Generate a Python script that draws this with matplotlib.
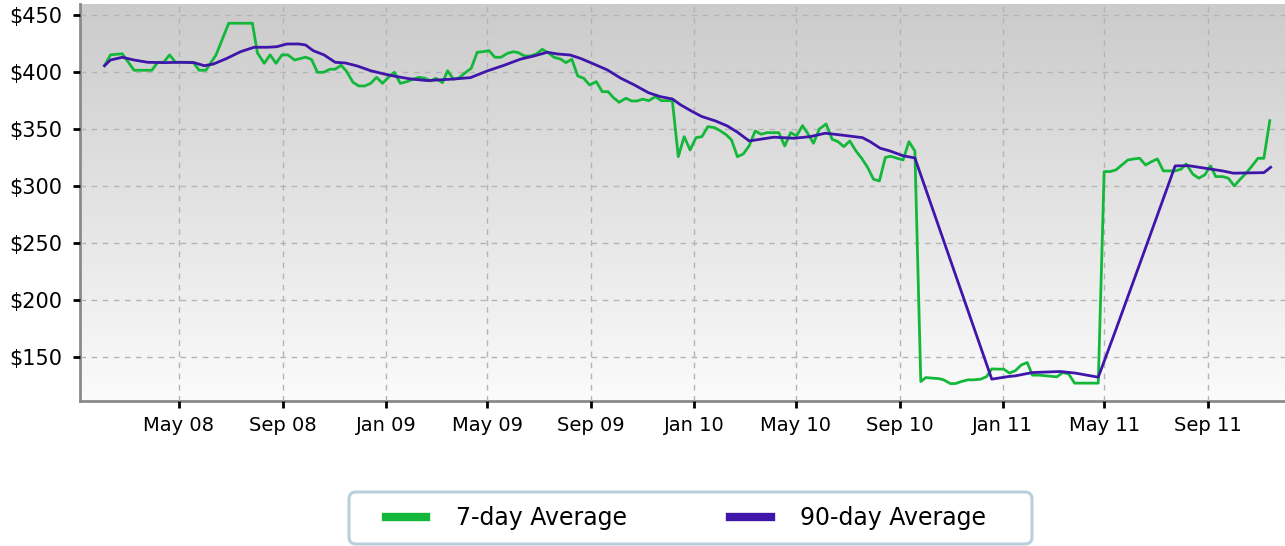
import numpy as np
import pandas as pd
import matplotlib
matplotlib.use('Agg')
import matplotlib.pyplot as plt
import matplotlib.dates as mdates
from matplotlib.patches import FancyBboxPatch
from matplotlib.transforms import IdentityTransform
from matplotlib.ticker import FuncFormatter

# days since 2008-01-01 and price for the 7-day average
day7 = [33, 40, 54, 68, 89, 96, 103, 110, 117, 138, 145, 153, 165, 180, 208, 214,
        222, 229, 236, 243, 250, 258, 271, 278, 285, 292, 300, 306, 313, 319, 327,
        334, 341, 348, 355, 362, 369, 376, 383, 391, 398, 405, 412, 419, 425, 433,
        439, 446, 452, 460, 467, 474, 481, 488, 495, 502, 510, 517, 523, 530, 537,
        544, 551, 559, 565, 573, 579, 586, 593, 600, 607, 615, 622, 629, 635, 642,
        650, 657, 663, 670, 677, 685, 692, 705, 712, 719, 726, 733, 740, 747, 755,
        762, 769, 775, 782, 789, 796, 803, 810, 817, 831, 838, 845, 852, 859, 865,
        872, 879, 887, 894, 901, 908, 915, 922, 929, 936, 943, 950, 957, 963, 971,
        978, 985, 992, 999, 1005, 1012, 1020, 1026, 1034, 1040, 1047, 1055, 1062,
        1070, 1077, 1083, 1090, 1097, 1104, 1111, 1118, 1125, 1131, 1139, 1160,
        1167, 1174, 1181, 1209, 1216, 1223, 1230, 1237, 1244, 1251, 1258, 1265,
        1272, 1279, 1286, 1292, 1300, 1307, 1313, 1321, 1328, 1335, 1342, 1348,
        1356, 1363, 1370, 1377, 1384, 1391, 1398, 1405, 1412]
avg7 = [405.5, 415, 416, 401.5, 401.5, 408.5, 408.5, 415, 408.5, 408.5, 401.5, 401.5,
        415, 442.8, 442.8, 416.7, 407.6, 415, 407.6, 415, 415, 410.5, 413, 411,
        399.7, 399.7, 402.4, 402.4, 405.9, 401, 391, 387.7, 387.7, 390, 395.3, 390,
        395.3, 399.7, 390, 391.5, 393.6, 395.3, 394.5, 392.1, 394.5, 390.6, 401.1,
        393.6, 394.5, 399.4, 403.2, 417.3, 417.8, 418.7, 412.9, 412.9, 416.4, 417.8,
        416.9, 414, 414, 415.8, 419.9, 416.4, 412.9, 411.2, 408.2, 411.2, 396.5,
        394.5, 388.6, 391.5, 382.7, 382.7, 377.6, 373.4, 376.9, 374.5, 374.5, 376.1,
        374.8, 378.3, 374.8, 374.8, 325.6, 343.2, 331.5, 342.3, 343.2, 352, 351.1,
        348.2, 344.7, 340.3, 325.6, 328, 335.3, 348.2, 345.3, 346.7, 346.7, 335,
        346.7, 343.8, 352.9, 346.2, 337.4, 350, 354.3, 340.9, 338.8, 334.4, 339.4,
        330.9, 324.2, 316.3, 305.8, 304.3, 324.9, 326, 324.2, 322.7, 338.8, 330.6,
        128.1, 131.6, 131.1, 130.7, 129.6, 126.3, 126.3, 128.1, 129.6, 129.6, 130.2,
        132.5, 139.2, 139, 139, 135.5, 137.7, 142.7, 144.8, 133.7, 133.7, 132.2,
        136, 134.8, 126.7, 126.7, 312.5, 312.5, 314, 318.3, 322.7, 323.6, 324.2,
        318.3, 321.2, 323.6, 313.1, 313.1, 313.1, 314.6, 319.2, 310.2, 306.7, 309.6,
        317.5, 308.1, 308.1, 306.7, 299.9, 305.8, 311.1, 317.5, 324.2, 324.2, 357.2]

# days since 2008-01-01 and price for the 90-day average
day90 = [33, 40, 54, 68, 84, 103, 123, 139, 151, 162, 178, 194, 210, 226, 237, 249,
         263, 271, 280, 293, 306, 318, 332, 348, 364, 379, 395, 415, 442, 466, 486,
         506, 525, 541, 557, 569, 584, 596, 612, 628, 644, 659, 677, 691, 705, 715,
         729, 740, 756, 770, 782, 796, 809, 825, 849, 868, 886, 904, 930, 939, 951,
         963, 978, 992, 1083, 1103, 1111, 1131, 1164, 1182, 1209, 1229, 1267, 1300,
         1316, 1336, 1356, 1369, 1405, 1413]
avg90 = [405.5, 410.5, 412.9, 410.5, 408.5, 408.2, 408.5, 408.2, 405.5, 407, 412,
         417.8, 421.7, 421.7, 422.2, 424.6, 424.6, 423.7, 418.7, 414.9, 408.5, 407.9,
         405.3, 401.1, 398.2, 395.9, 393.9, 392.4, 393.6, 395, 400.9, 405.9, 411.2,
         414, 417.3, 415.8, 414.9, 412, 407, 401.8, 394.5, 389, 381.7, 378.3, 376.3,
         371, 365.1, 360.8, 357, 352.6, 347.1, 339.4, 340.9, 342.7, 341.8, 343.2,
         346.2, 344.7, 342.3, 338.8, 333, 330.5, 326.4, 324.5, 130.2, 132.5, 133.1,
         136, 136.9, 135.5, 131.9, 171.9, 249.6, 317.5, 317.7, 315.4, 313.1, 311.1,
         311.6, 316.3]

start = pd.Timestamp('2008-01-01')
dates7 = start + pd.to_timedelta(day7, unit='D')
dates90 = start + pd.to_timedelta(day90, unit='D')

fig = plt.figure(figsize=(12.85, 5.46), dpi=100)
ax = fig.add_axes([80 / 1285, 1 - 401 / 546, 1 - 80 / 1285, 397 / 546])

# grey-to-white background
grad = np.linspace(0, 1, 256).reshape(-1, 1)
ax.imshow(grad, extent=[0, 1, 0, 1], transform=ax.transAxes, aspect='auto',
          cmap=matplotlib.colors.LinearSegmentedColormap.from_list('bg', ['#fbfbfb', '#cbcbcb']),
          origin='lower', zorder=0)

ax.plot(dates7, avg7, color='#13b83b', lw=2.0, zorder=3, label='7-day Average')
ax.plot(dates90, avg90, color='#3f16a9', lw=2.0, zorder=4, label='90-day Average')

ax.set_xlim(pd.Timestamp('2008-01-05'), pd.Timestamp('2011-12-01'))
ax.set_ylim(111, 459.7)
ax.set_yticks([150, 200, 250, 300, 350, 400, 450])
ax.yaxis.set_major_formatter(FuncFormatter(lambda v, p: '$%d' % v))
ax.xaxis.set_major_locator(mdates.MonthLocator(bymonth=[1, 5, 9]))
ax.xaxis.set_major_formatter(mdates.DateFormatter('%b %y'))

ax.grid(True, color='#b4b4b4', linestyle=(0, (4, 4)), lw=1)
ax.set_axisbelow(False)
for s in ['top', 'right']:
    ax.spines[s].set_visible(False)
for s in ['left', 'bottom']:
    ax.spines[s].set_color('#8a8a8a')
    ax.spines[s].set_linewidth(2)
ax.tick_params(axis='y', length=5, width=2, color='black', labelsize=15, pad=8)
ax.tick_params(axis='x', length=5, width=2, color='black', labelsize=14, pad=6)

# legend box drawn by hand so its padding matches
box = FancyBboxPatch((349, 2), 683, 52, boxstyle='round,pad=0,rounding_size=7',
                     transform=IdentityTransform(), facecolor='white',
                     edgecolor='#b9cfdc', linewidth=2.2, zorder=1)
fig.add_artist(box)

leg = fig.legend(loc='center', bbox_to_anchor=(686 / 1285, 1 - 518 / 546), ncol=2,
                 fontsize=17, frameon=False, handlelength=1.7,
                 handletextpad=1.25, columnspacing=4.4)
leg.set_zorder(2)
for line in leg.get_lines():
    line.set_linewidth(6)

fig.savefig('out.png', dpi=100)
